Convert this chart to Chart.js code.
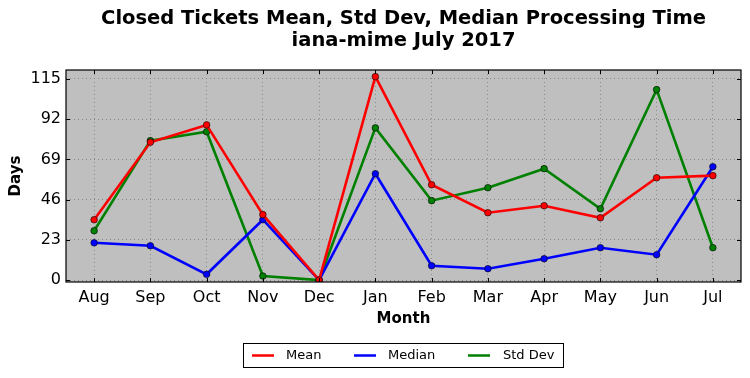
<!DOCTYPE html>
<html><head><meta charset="utf-8">
<script src="https://cdn.jsdelivr.net/npm/chart.js@4/dist/chart.umd.min.js"></script>
<style>html,body{margin:0;padding:0;background:#fff;}#wrap{width:750px;height:378px;}</style>
</head><body><div id="wrap"><canvas id="c" width="750" height="378"></canvas></div>
<script>
const months = ["Aug","Sep","Oct","Nov","Dec","Jan","Feb","Mar","Apr","May","Jun","Jul"];
const meanValues = [34.5, 78.8, 88.7, 37.4, 0, 116.3, 54.5, 38.5, 42.5, 35.6, 58.5, 59.7];
const medianValues = [21.3, 19.6, 3.3, 34.5, 0, 60.8, 8.2, 6.5, 12.2, 18.5, 14.5, 64.8];
const stdDevValues = [28.2, 79.7, 84.8, 2.3, 0, 87.0, 45.4, 52.8, 63.7, 40.8, 108.9, 18.5];
const yTicks = [0, 23, 46, 69, 92, 115];
const titleLines = ["Closed Tickets Mean, Std Dev, Median Processing Time", "iana-mime July 2017"];
const FONT = "'DejaVu Sans', sans-serif";

const deco = {
  id: 'deco',
  beforeDraw(chart) {
    const {ctx, chartArea: a} = chart;
    ctx.save();
    ctx.fillStyle = '#bfbfbf';
    ctx.fillRect(a.left, a.top, a.right - a.left, a.bottom - a.top);
    ctx.restore();
  },
  afterDatasetsDraw(chart) {
    const {ctx, chartArea: a, scales} = chart;
    ctx.save();
    ctx.strokeStyle = '#000';
    ctx.lineWidth = 1;
    ctx.beginPath();
    yTicks.forEach(v => {
      const y = Math.round(scales.y.getPixelForValue(v)) + 0.5;
      ctx.moveTo(a.left, y); ctx.lineTo(a.left + 4, y);
      ctx.moveTo(a.right, y); ctx.lineTo(a.right - 4, y);
    });
    months.forEach((m, i) => {
      const x = Math.round(scales.x.getPixelForValue(i)) + 0.5;
      ctx.moveTo(x, a.bottom); ctx.lineTo(x, a.bottom - 4);
      ctx.moveTo(x, a.top); ctx.lineTo(x, a.top + 4);
    });
    ctx.stroke();
    ctx.lineWidth = 1.2;
    ctx.strokeRect(a.left, a.top, a.right - a.left, a.bottom - a.top);
    ctx.restore();
  },
  afterDraw(chart) {
    const {ctx, chartArea: a} = chart;
    const cx = (a.left + a.right) / 2;
    ctx.save();
    ctx.fillStyle = '#000';
    ctx.textAlign = 'center';
    ctx.textBaseline = 'middle';
    ctx.font = "bold 19.5px " + FONT;
    ctx.fillText(titleLines[0], cx, 19);
    ctx.fillText(titleLines[1], cx, 41);
    ctx.font = "bold 15px " + FONT;
    ctx.fillText("Month", cx, 319);
    ctx.save();
    ctx.translate(16, (a.top + a.bottom) / 2);
    ctx.rotate(-Math.PI / 2);
    ctx.fillText("Days", 0, 0);
    ctx.restore();
    const lx = 243.5, ly = 343.5, lw = 320, lh = 24;
    ctx.fillStyle = '#fff';
    ctx.fillRect(lx, ly, lw, lh);
    ctx.strokeStyle = '#000';
    ctx.lineWidth = 1;
    ctx.strokeRect(lx, ly, lw, lh);
    const items = [[252, 286], [354, 388], [468, 503]];
    ctx.font = "13px " + FONT;
    ctx.textAlign = 'left';
    chart.data.datasets.forEach((ds, i) => {
      const [x0, tx] = items[i];
      ctx.strokeStyle = ds.borderColor;
      ctx.lineWidth = 2.5;
      ctx.beginPath();
      ctx.moveTo(x0, 355.5);
      ctx.lineTo(x0 + 22, 355.5);
      ctx.stroke();
      ctx.fillStyle = '#000';
      ctx.fillText(ds.label, tx, 356);
    });
    ctx.restore();
  }
};

function ds(label, data, color) {
  return {
    label, data,
    borderColor: color,
    backgroundColor: color,
    borderWidth: 2.6,
    pointRadius: 3.3,
    pointBorderColor: '#000',
    pointBorderWidth: 0.6,
    pointBackgroundColor: color,
    tension: 0,
    fill: false
  };
}

new Chart(document.getElementById('c'), {
  type: 'line',
  data: {
    labels: months,
    datasets: [
      ds('Mean', meanValues, '#ff0000'),
      ds('Median', medianValues, '#0000ff'),
      ds('Std Dev', stdDevValues, '#008000')
    ]
  },
  options: {
    responsive: false,
    animation: false,
    devicePixelRatio: 1,
    layout: {padding: {top: 70, right: 9, bottom: 0, left: 0}},
    plugins: {legend: {display: false}, title: {display: false}, tooltip: {enabled: false}},
    scales: {
      x: {
        offset: true,
        grid: {offset: false, color: '#8a8a8a', lineWidth: 1, drawTicks: false},
        border: {display: false, dash: [1, 3]},
        ticks: {color: '#000', font: {family: FONT, size: 16}, padding: 6, maxRotation: 0},
        afterFit(s) { s.height = 96; }
      },
      y: {
        min: -1.1, max: 120.1,
        afterBuildTicks(s) { s.ticks = yTicks.map(v => ({value: v})); },
        grid: {color: '#8a8a8a', lineWidth: 1, drawTicks: false},
        border: {display: false, dash: [1, 3]},
        ticks: {color: '#000', font: {family: FONT, size: 16}, padding: 5},
        afterFit(s) { s.width = 66; }
      }
    }
  },
  plugins: [deco]
});
</script>
</body></html>
